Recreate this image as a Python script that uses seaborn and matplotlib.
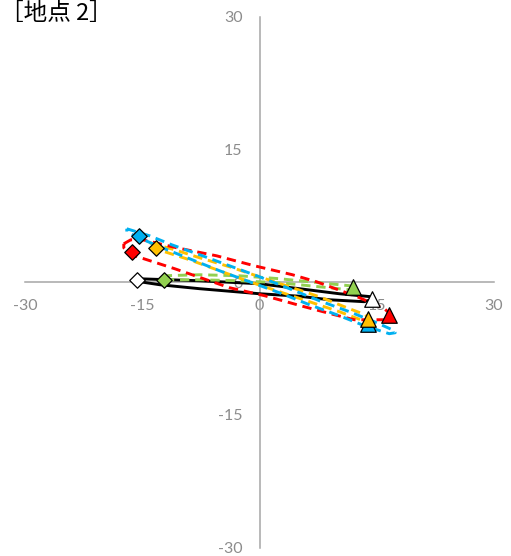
import numpy as np
import matplotlib
matplotlib.use("Agg")
import matplotlib.pyplot as plt
import seaborn as sns

sns.set_style("white")
plt.rcParams["font.family"] = ["Lato", "DejaVu Sans"]

# Current-vector loops (u, v) for each series, traced around the closed curve
red_u = [-17.36, -16.47, -14.94, -10.60, -5.49, -0.64, 4.21, 7.28, 12.51, 15.96, 16.85,
         16.09, 12.13, 9.57, 5.74, 0.64, -3.83, -10.85, -15.96, -17.36]
red_v = [4.35, 4.80, 4.80, 3.90, 2.99, 1.86, 0.85, 0.06, -1.64, -2.99, -3.67,
         -4.24, -4.24, -3.67, -2.77, -1.52, -0.62, 1.53, 2.99, 3.90]

blue_u = [-16.98, -14.04, -11.23, -7.66, -3.83, 0.0, 3.83, 7.66, 11.49, 14.68, 16.98, 17.36,
          16.60, 13.40, 10.21, 6.38, 2.55, -1.28, -5.11, -8.94, -12.77, -15.96, -16.98]
blue_v = [6.05, 5.25, 4.24, 3.11, 1.86, 0.62, -0.73, -2.09, -3.33, -4.46, -5.37, -5.71,
          -5.82, -4.91, -3.78, -2.54, -1.19, 0.06, 1.30, 2.66, 4.01, 5.25, 5.71]

orange_u = [-14.04, -10.85, -7.66, -3.83, 0.0, 3.83, 7.66, 11.49, 13.53, 14.04,
            13.28, 10.21, 6.38, 2.55, -1.28, -5.11, -8.94, -12.13, -13.79]
orange_v = [4.46, 3.67, 2.77, 1.75, 0.62, -0.51, -1.64, -2.99, -3.67, -4.12,
            -4.35, -3.33, -2.20, -1.07, 0.06, 1.30, 2.54, 3.45, 3.90]

green_u = [-12.38, -7.66, -2.55, 2.55, 7.66, 11.49, 12.51,
           11.49, 7.66, 2.55, -2.55, -7.66, -11.98]
green_v = [0.73, 0.85, 0.73, 0.40, -0.06, -0.39, -0.73,
           -0.85, -0.51, -0.06, 0.17, 0.28, 0.28]

black_u = [-15.70, -11.49, -7.66, 0.0, 5.11, 10.21, 14.30, 14.68,
           13.40, 8.94, 5.11, 0.0, -7.66, -12.77, -15.32]
black_v = [0.40, 0.28, 0.17, -0.17, -0.73, -1.30, -1.64, -1.86,
           -2.20, -1.98, -1.58, -1.30, -0.73, -0.28, 0.06]

# Peak flood (diamond) and peak ebb (triangle) vectors
series = ["red", "blue", "orange", "green", "white"]
flood_u = [-16.35, -15.42, -13.28, -12.18, -15.71]
flood_v = [3.47, 5.20, 3.85, 0.20, 0.20]
ebb_u = [16.60, 13.88, 13.92, 12.00, 14.35]
ebb_v = [-3.74, -4.67, -4.19, -0.54, -1.86]

ticks = [-30, -15, 0, 15, 30]

colors = {"red": "#FF0000", "blue": "#00B0F0", "orange": "#FFC000",
          "green": "#92D050", "white": "#FFFFFF"}

fig = plt.figure(figsize=(5.11, 5.56), dpi=100)
ax = fig.add_axes([25 / 511, 8.5 / 556, 469 / 511, 530.5 / 556])

dash = (0, (3.2, 2.0))
loops = [(black_u, black_v, "black", "-"),
         (green_u, green_v, colors["green"], dash),
         (orange_u, orange_v, colors["orange"], dash),
         (red_u, red_v, colors["red"], dash),
         (blue_u, blue_v, colors["blue"], dash)]
for u, v, c, ls in loops:
    u = np.r_[u, u[:1]]
    v = np.r_[v, v[:1]]
    sns.lineplot(x=u, y=v, sort=False, estimator=None, color=c, lw=2.1,
                 linestyle=ls, ax=ax, zorder=3)

for i, s in enumerate(series):
    sns.scatterplot(x=[flood_u[i]], y=[flood_v[i]], marker="D", s=62,
                    color=colors[s], edgecolor="black", linewidth=0.9, ax=ax, zorder=5)
for i, s in enumerate(series):
    sns.scatterplot(x=[ebb_u[i]], y=[ebb_v[i]], marker="^", s=125,
                    color=colors[s], edgecolor="black", linewidth=0.9, ax=ax, zorder=5)

ax.set_xlim(-30, 30)
ax.set_ylim(-30, 30)
ax.set_xticks(ticks)
ax.set_yticks(ticks)
ax.set_xticklabels([str(t) for t in ticks])
ax.set_yticklabels([str(t) for t in ticks])

axis_gray = "#A6A6A6"
for side in ["top", "right"]:
    ax.spines[side].set_visible(False)
for side in ["left", "bottom"]:
    ax.spines[side].set_position(("data", 0))
    ax.spines[side].set_color(axis_gray)
    ax.spines[side].set_linewidth(1.1)
    ax.spines[side].set_zorder(1)
ax.tick_params(axis="both", direction="inout", length=7.5, width=1.1,
               color=axis_gray, labelcolor="#8C8C8C", labelsize=11.5, pad=8.5)
ax.patch.set_alpha(0)
ax.set_xlabel("")
ax.set_ylabel("")

fig.text(0.0, 1 - 2 / 556, "［地点 2］", ha="left", va="top", fontsize=17,
         family=["Noto Sans CJK JP", "DejaVu Sans"], color="black")

fig.savefig("out.png", dpi=100)
